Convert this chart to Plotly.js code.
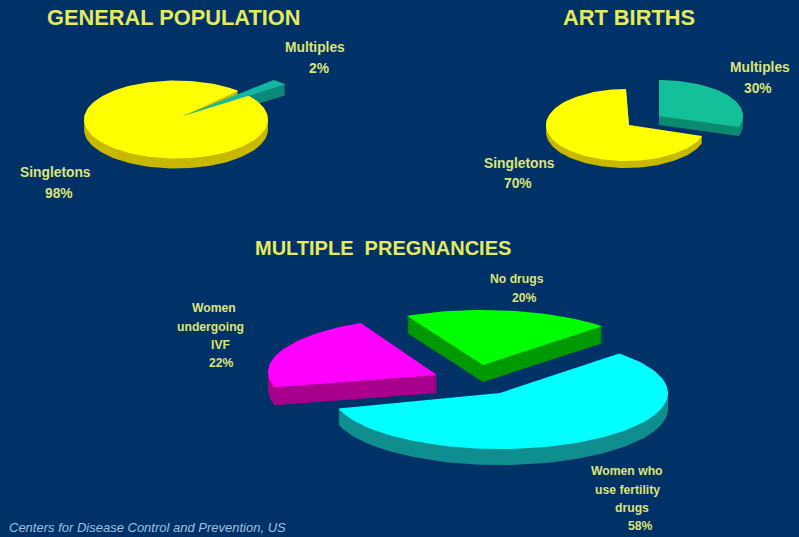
<!DOCTYPE html>
<html>
<head>
<meta charset="utf-8">
<script src="https://cdn.plot.ly/plotly-3.0.1.min.js"></script>
<style>html,body{margin:0;padding:0;background:#003267}#chart{width:799px;height:537px}</style>
</head>
<body>
<div id="chart"></div>
<script>
// Share of births and multiple pregnancies, percent
const generalCategories = ['Multiples', 'Singletons'];
const generalValues = [2, 98];
const artCategories = ['Multiples', 'Singletons'];
const artValues = [30, 70];
const multipleCategories = ['No drugs', 'Women who use fertility drugs', 'Women undergoing IVF'];
const multipleValues = [20, 58, 22];

const BG = '#003267';
const TITLE = '#e6ea5e';
const TEXT = '#dfe278';

// Ellipse and apex of each slice on a plot area measured in page pixels
const pies = [
  {
    name: 'General population', categories: generalCategories, values: generalValues, rotation: 42.6,
    top: ['#12b8a0', '#ffff00'], side: ['#0b8a7c', '#c8b800'],
    shape: [
      {cx: 183, cy: 116, rx: 134, ry: 49, ax: 183, ay: 116, depth: 11},
      {cx: 176, cy: 119.5, rx: 92, ry: 39, ax: 181, ay: 117, depth: 10}
    ]
  },
  {
    name: 'ART births', categories: artCategories, values: artValues, rotation: 0,
    top: ['#14c09a', '#ffff00'], side: ['#0c8a70', '#c8b800'],
    shape: [
      {cx: 659, cy: 116, rx: 84, ry: 36, ax: 659, ay: 116, depth: 9},
      {cx: 626, cy: 125, rx: 80, ry: 36, ax: 629, ay: 125, depth: 7}
    ]
  },
  {
    name: 'Multiple pregnancies', categories: multipleCategories, values: multipleValues, rotation: 333.2,
    top: ['#00ff00', '#00ffff', '#ff00ff'], side: ['#009a00', '#0e8e8e', '#a8008c'],
    shape: [
      {cx: 483, cy: 365, rx: 168, ry: 55, ax: 483, ay: 365, depth: 17},
      {cx: 500, cy: 393, rx: 168, ry: 56, ax: 500, ay: 393, depth: 16},
      {cx: 437, cy: 372, rx: 169, ry: 55, ax: 437, ay: 375, depth: 18}
    ]
  }
];

// Closed outline of one slice: apex, then the arc swept clockwise from 12 o'clock
function outline(s, from, to) {
  const pts = [[s.ax, s.ay]];
  const n = Math.max(4, Math.ceil((to - from) / 2));
  for (let i = 0; i <= n; i++) {
    const t = (from + (to - from) * i / n) * Math.PI / 180;
    pts.push([s.cx + s.rx * Math.sin(t), s.cy - s.ry * Math.cos(t)]);
  }
  pts.push([s.ax, s.ay]);
  return pts;
}

const traces = [];
function area(pts, color, name) {
  traces.push({
    type: 'scatter', mode: 'lines', fill: 'toself', fillcolor: color, name: name,
    x: pts.map(p => p === null ? null : p[0]), y: pts.map(p => p === null ? null : p[1]),
    line: {width: 0, color: color}, hoverinfo: 'name', showlegend: false, connectgaps: false
  });
}

pies.forEach(pie => {
  const total = pie.values.reduce((a, b) => a + b, 0);
  let angle = pie.rotation;
  const arcs = pie.values.map(v => {
    const sweep = v / total * 360;
    const arc = [angle, angle + sweep];
    angle += sweep;
    return arc;
  });
  // Side walls first: the outline repeated downward through the slice depth
  arcs.forEach((arc, i) => {
    const s = pie.shape[i], base = outline(s, arc[0], arc[1]);
    let wall = [];
    for (let d = 1; d <= s.depth; d++) {
      wall = wall.concat(base.map(p => [p[0], p[1] + d]));
      wall.push(null);
    }
    area(wall, pie.side[i], pie.categories[i] + ' side');
  });
  // Top faces, last slice first, so a narrow first slice stays on top
  for (let i = arcs.length - 1; i >= 0; i--) {
    area(outline(pie.shape[i], arcs[i][0], arcs[i][1]), pie.top[i], pie.categories[i]);
  }
});

const FONT = 'Liberation Sans, Arial, sans-serif';
function label(text, x, y, size, color) {
  return {
    text: '<b>' + text + '</b>', x: x, y: y, xref: 'x', yref: 'y', showarrow: false,
    xanchor: 'center', yanchor: 'middle',
    font: {family: FONT, size: size, color: color || TEXT}
  };
}
const pct = v => v + '%';

const annotations = [
  label('GENERAL POPULATION', 174, 17, 21.8, TITLE),
  label('ART BIRTHS', 629, 17, 21.8, TITLE),
  label('MULTIPLE\u00a0\u00a0PREGNANCIES', 383, 248, 20, TITLE),

  label(generalCategories[0], 315, 47, 13.8),
  label(pct(generalValues[0]), 319, 68, 13.8),
  label(generalCategories[1], 55, 172, 13.8),
  label(pct(generalValues[1]), 59, 193, 13.8),

  label(artCategories[0], 760, 67, 13.8),
  label(pct(artValues[0]), 758, 88, 13.8),
  label(artCategories[1], 519, 163, 13.8),
  label(pct(artValues[1]), 518, 183, 13.8),

  label('No drugs', 517, 279, 12.2),
  label(pct(multipleValues[0]), 524, 298, 12.2),

  label('Women', 214, 308, 12.2),
  label('undergoing', 210, 327, 12.2),
  label('IVF', 220, 345, 12.2),
  label(pct(multipleValues[2]), 221, 363, 12.2),

  label('Women who', 627, 471, 12.2),
  label('use fertility', 627, 490, 12.2),
  label('drugs', 632, 508, 12.2),
  label(pct(multipleValues[1]), 640, 526, 12.2),

  {
    text: '<i>Centers for Disease Control and Prevention, US</i>',
    x: 7, y: 527, xref: 'x', yref: 'y', showarrow: false, xanchor: 'left', yanchor: 'middle',
    font: {family: FONT, size: 13, color: '#a0c0e0'}
  }
];

const hiddenAxis = range => ({
  range: range, visible: false, showgrid: false, zeroline: false, fixedrange: true
});

Plotly.newPlot('chart', traces, {
  width: 799, height: 537,
  margin: {l: 0, r: 0, t: 0, b: 0},
  paper_bgcolor: BG, plot_bgcolor: BG,
  showlegend: false,
  xaxis: hiddenAxis([0, 799]),
  yaxis: hiddenAxis([537, 0]),
  annotations: annotations
}, {displayModeBar: false});
</script>
</body>
</html>
